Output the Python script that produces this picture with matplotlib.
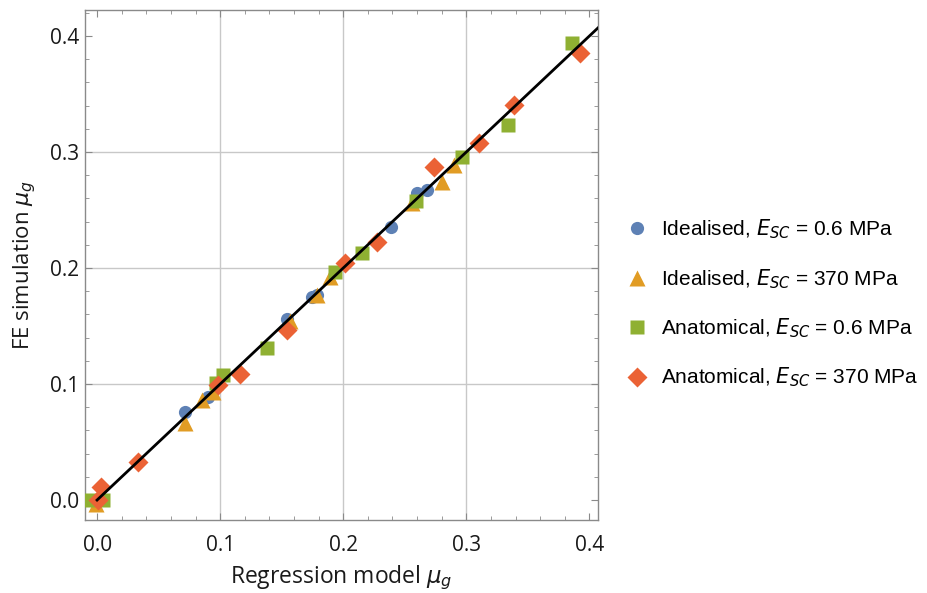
import numpy as np
import matplotlib
matplotlib.use("Agg")
import matplotlib.pyplot as plt
from matplotlib.ticker import MultipleLocator

# Idealised, E_SC = 0.6 MPa
ideal_low_x = [0.0715, 0.0905, 0.154, 0.175, 0.1786, 0.239, 0.260, 0.268]
ideal_low_y = [0.0759, 0.089, 0.156, 0.1747, 0.1767, 0.235, 0.265, 0.267]

# Idealised, E_SC = 370 MPa
ideal_high_x = [-0.001, 0.0715, 0.085, 0.094, 0.157, 0.179, 0.189, 0.256, 0.280, 0.290]
ideal_high_y = [-0.003, 0.066, 0.086, 0.093, 0.154, 0.177, 0.1925, 0.256, 0.274, 0.289]

# Anatomical, E_SC = 0.6 MPa
anat_low_x = [-0.005, 0.005, 0.097, 0.1027, 0.138, 0.1935, 0.215, 0.259, 0.2965, 0.3336, 0.386]
anat_low_y = [0.0, 0.0, 0.1006, 0.1078, 0.1308, 0.197, 0.213, 0.258, 0.2954, 0.3233, 0.3937]

# Anatomical, E_SC = 370 MPa
anat_high_x = [0.001, 0.003, 0.0336, 0.0986, 0.116, 0.154, 0.2016, 0.2274, 0.2734, 0.310, 0.3385, 0.392]
anat_high_y = [0.0, 0.011, 0.033, 0.099, 0.109, 0.1466, 0.2046, 0.2227, 0.2874, 0.3075, 0.3405, 0.385]

fit_x = [0.0, 0.407]
fit_y = [0.0, 0.407]

fig = plt.figure(figsize=(9.28, 5.93), dpi=100)
ax = fig.add_axes([0.0916, 0.1231, 0.5528, 0.86])

ax.plot(ideal_low_x, ideal_low_y, 'o', color='#5E81B5', ms=9.5, mec='none',
        label=r'Idealised, $E_{SC}$ = 0.6 MPa', zorder=3)
ax.plot(ideal_high_x, ideal_high_y, '^', color='#E19C24', ms=12, mec='none',
        label=r'Idealised, $E_{SC}$ = 370 MPa', zorder=4)
ax.plot(anat_low_x, anat_low_y, 's', color='#8FB032', ms=9.5, mec='none',
        label=r'Anatomical, $E_{SC}$ = 0.6 MPa', zorder=5)
ax.plot(anat_high_x, anat_high_y, 'D', color='#EB6235', ms=10.5, mec='none',
        label=r'Anatomical, $E_{SC}$ = 370 MPa', zorder=6)
ax.plot(fit_x, fit_y, '-', color='black', lw=2, zorder=7)

ax.set_xlim(-0.0098, 0.407)
ax.set_ylim(-0.0172, 0.4224)

ax.xaxis.set_major_locator(MultipleLocator(0.1))
ax.yaxis.set_major_locator(MultipleLocator(0.1))
ax.xaxis.set_minor_locator(MultipleLocator(0.02))
ax.yaxis.set_minor_locator(MultipleLocator(0.02))
ax.xaxis.set_major_formatter(matplotlib.ticker.FormatStrFormatter('%.1f'))
ax.yaxis.set_major_formatter(matplotlib.ticker.FormatStrFormatter('%.1f'))

for g in [0.1, 0.2, 0.3]:
    ax.axvline(g, color='#c8c8c8', lw=1, zorder=1)
    ax.axhline(g, color='#c8c8c8', lw=1, zorder=1)

for s in ax.spines.values():
    s.set_color('#8a8a8a')
    s.set_linewidth(1)

ax.tick_params(which='both', direction='in', top=True, right=True, color='#8a8a8a')
ax.tick_params(which='major', length=5, width=0.8, labelsize=15, labelcolor='#1a1a1a')
ax.tick_params(which='minor', length=3, width=0.6)
ax.tick_params(axis='x', which='major', pad=11)
ax.tick_params(axis='y', which='major', pad=4)
for lab in ax.get_xticklabels() + ax.get_yticklabels():
    lab.set_family('Open Sans')

ax.set_xlabel(r'Regression model $\mu_g$', fontsize=16.5, family='Open Sans', labelpad=5, color='#1a1a1a')
ax.set_ylabel(r'FE simulation $\mu_g$', fontsize=16, family='Open Sans', labelpad=9, color='#1a1a1a')

leg = ax.legend(loc='center left', bbox_to_anchor=(1.015, 0.4245), frameon=False,
                prop={'family': 'Liberation Sans', 'size': 15}, labelspacing=1.24,
                handletextpad=0.55, handlelength=1.2)

fig.savefig('out.png', dpi=100)
